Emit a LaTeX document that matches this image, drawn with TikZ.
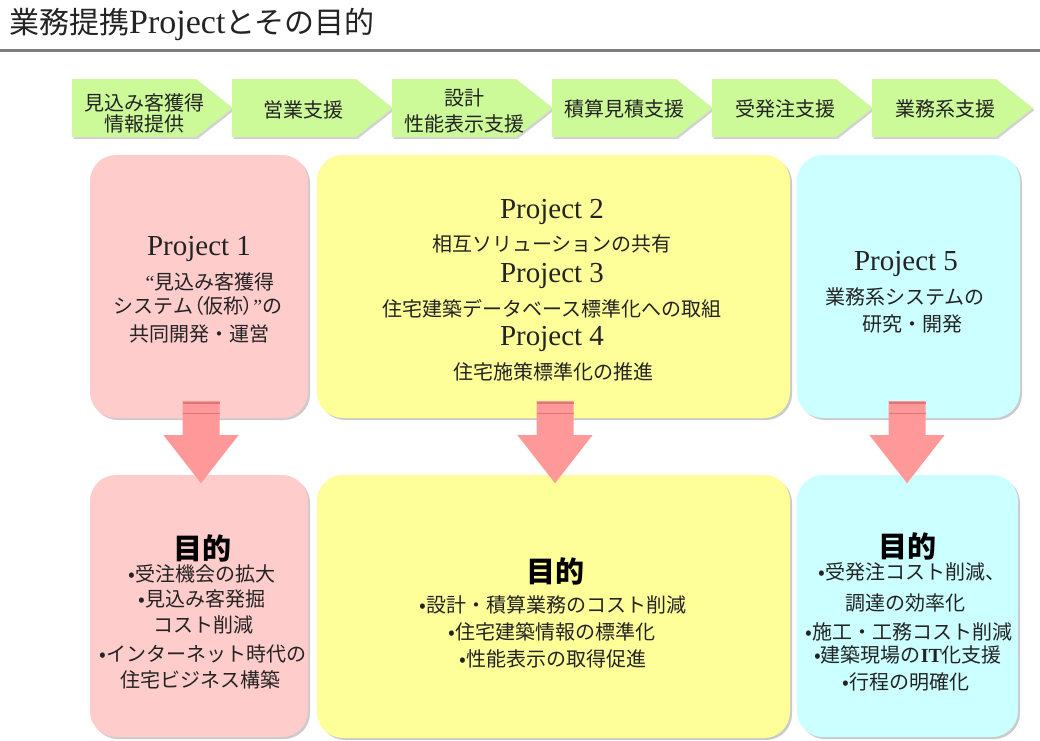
\documentclass[tikz,border=0pt]{standalone}
\usepackage{fontspec}
\setmainfont{Noto Sans CJK JP}
\newfontfamily\serif{Liberation Serif}
\usetikzlibrary{shadows}
\definecolor{pinkbox}{RGB}{255,204,204}
\definecolor{yelbox}{RGB}{255,255,153}
\definecolor{bluebox}{RGB}{204,255,255}
\definecolor{greenpent}{RGB}{204,250,153}
\definecolor{arrowpink}{RGB}{255,153,153}
\definecolor{arrowdark}{RGB}{222,118,118}
\definecolor{rulegray}{RGB}{125,125,125}
\definecolor{ink}{RGB}{35,35,35}
\begin{document}
\begin{tikzpicture}[x=1pt,y=-1pt,
  box/.style={rectangle, rounded corners=26pt, inner sep=0pt, draw=none,
    drop shadow={shadow xshift=2pt, shadow yshift=-2pt, opacity=0.45, fill=black!45}},
  pent/.style={fill=greenpent, drop shadow={shadow xshift=1.5pt, shadow yshift=-2pt, opacity=0.35, fill=black!50}},
  txt/.style={inner sep=0pt, text=ink, font=\fontsize{20}{24}\selectfont},
  proj/.style={inner sep=0pt, text=ink, font=\serif\fontsize{29}{32}\selectfont},
  goal/.style={inner sep=0pt, text=black, font=\bfseries\fontsize{29}{32}\selectfont},
  blockarrow/.pic={
    \fill[arrowpink] (-18.5,0) -- (18.5,0) -- (18.5,34) -- (37.5,34) -- (0,82) -- (-37.5,34) -- (-18.5,34) -- cycle;
    \draw[arrowdark, line width=2pt] (-18.5,1.5) -- (18.5,1.5);
    \draw[arrowdark, line width=1pt] (-18.5,12) -- (18.5,12);
  }
]
\useasboundingbox (0,0) rectangle (1040,740);
\fill[white] (0,0) rectangle (1040,740);

% title and rule
\node[anchor=west, inner sep=0pt, text=ink] (title) at (9,24.5)
  {\fontsize{30}{32}\selectfont 業務提携{\serif\fontsize{34}{34}\selectfont Project}とその目的};
\draw[rulegray, line width=2.5pt] (0,50.5) -- (1040,50.5);

% process chevrons
\foreach \x in {72,232,392,552,712,872}{
  \path[pent] (\x,79) -- (\x+124,79) -- (\x+161,108) -- (\x+124,137) -- (\x,137) -- cycle;
}
\node[txt] (s1a) at (144,102.5) {見込み客獲得};
\node[txt] (s1b) at (144,123.5) {情報提供};
\node[txt] (s2) at (303,110) {営業支援};
\node[txt] (s3a) at (464,97.5) {設計};
\node[txt] (s3b) at (464,123.5) {性能表示支援};
\node[txt] (s4) at (624,109) {積算見積支援};
\node[txt] (s5) at (785,109) {受発注支援};
\node[txt] (s6) at (945,109) {業務系支援};

% top boxes
\node[box, fill=pinkbox, minimum width=218pt, minimum height=263pt] (top1) at (199,286.5) {};
\node[box, fill=yelbox, minimum width=473pt, minimum height=263pt] (top2) at (553.5,286.5) {};
\node[box, fill=bluebox, minimum width=223pt, minimum height=263pt] (top3) at (908.5,286.5) {};

% bottom boxes
\node[box, fill=pinkbox, minimum width=218pt, minimum height=262pt] (bot1) at (199,606) {};
\node[box, fill=yelbox, minimum width=473pt, minimum height=263pt] (bot2) at (553.5,606.5) {};
\node[box, fill=bluebox, minimum width=221pt, minimum height=262pt] (bot3) at (907.5,606) {};

% arrows
\pic at ([xshift=2pt,yshift=17pt]top1.south) {blockarrow};
\pic at ([xshift=1.5pt,yshift=17pt]top2.south) {blockarrow};
\pic at ([xshift=-1.5pt,yshift=17pt]top3.south) {blockarrow};

% top texts
\node[proj] (p1a) at (199,249) {Project 1};
\node[txt] (p1b) at (210,281.5) {{\serif “}見込み客獲得};
\node[txt] (p1c) at (198,306) {システム{\addfontfeature{CharacterWidth=AlternateProportional}（仮称）}{\serif ”}の};
\node[txt] (p1d) at (199,334) {共同開発・運営};

\node[proj] (p2a) at (552,212) {Project 2};
\node[txt] (p2b) at (552,243.5) {相互ソリューションの共有};
\node[proj] (p3a) at (552,276) {Project 3};
\node[txt] (p3b) at (552,308.5) {住宅建築データベース標準化への取組};
\node[proj] (p4a) at (552,339) {Project 4};
\node[txt] (p4b) at (553,371.5) {住宅施策標準化の推進};

\node[proj] (p5a) at (906,264) {Project 5};
\node[txt] (p5b) at (905,296.5) {業務系システムの};
\node[txt] (p5c) at (912,323.5) {研究・開発};

% bottom texts
\node[goal] (g1a) at (202,548.5) {目的};
\node[txt] (g1b) at (202,573.5) {•受注機会の拡大};
\node[txt] (g1c) at (202,598.5) {•見込み客発掘};
\node[txt] (g1d) at (203,625) {コスト削減};
\node[txt] (g1e) at (203,654) {•インターネット時代の};
\node[txt] (g1f) at (200,680) {住宅ビジネス構築};

\node[goal] (g2a) at (555,571) {目的};
\node[txt] (g2b) at (553,605) {•設計・積算業務のコスト削減};
\node[txt] (g2c) at (552,631.5) {•住宅建築情報の標準化};
\node[txt] (g2d) at (553,658.5) {•性能表示の取得促進};

\node[goal] (g3a) at (907,546) {目的};
\node[txt] (g3b) at (912,571.5) {•受発注コスト削減、};
\node[txt] (g3c) at (905,602.5) {調達の効率化};
\node[txt] (g3d) at (909,631.5) {•施工・工務コスト削減};
\node[txt] (g3e) at (908,655) {•建築現場の{\serif\bfseries IT}化支援};
\node[txt] (g3f) at (906,681.5) {•行程の明確化};
\end{tikzpicture}
\end{document}
